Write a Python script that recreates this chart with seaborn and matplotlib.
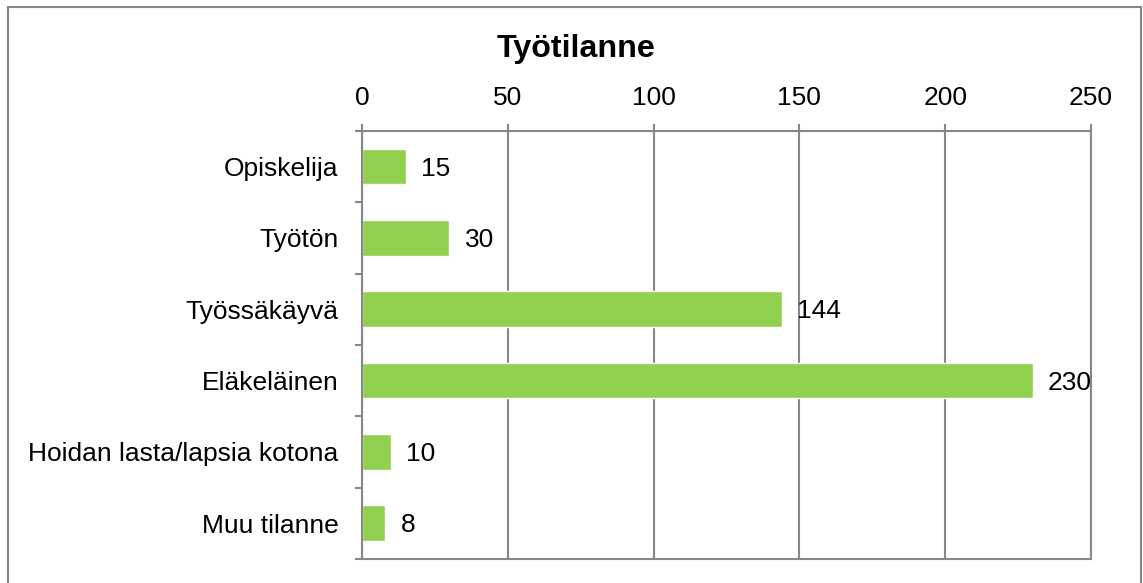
# Työtilanne - horizontal bar chart
import numpy as np
import pandas as pd
import matplotlib
matplotlib.use("Agg")
import matplotlib.pyplot as plt
from matplotlib.patches import Rectangle
import seaborn as sns

# ─── DATA ────────────────────────────────────────────────────────────────────
categories = ["Opiskelija", "Työtön", "Työssäkäyvä", "Eläkeläinen",
              "Hoidan lasta/lapsia kotona", "Muu tilanne"]
counts = [15, 30, 144, 230, 10, 8]
x_ticks = [0, 50, 100, 150, 200, 250]

df = pd.DataFrame({"Tilanne": categories, "Lukumäärä": counts})

# ─── STYLE ───────────────────────────────────────────────────────────────────
sns.set_style("white")
plt.rcParams["font.family"] = ["Liberation Sans", "DejaVu Sans"]
plt.rcParams["text.color"] = "black"
plt.rcParams["xtick.labelcolor"] = "black"
plt.rcParams["ytick.labelcolor"] = "black"

GRAY = "#878787"
GREEN = "#92D050"
FS = 19

fig = plt.figure(figsize=(11.43, 5.83), dpi=100)
ax = fig.add_axes([362 / 1143, 1 - 559 / 583, (1091 - 362) / 1143, (559 - 131) / 583])

sns.barplot(data=df, x="Lukumäärä", y="Tilanne", color=GREEN, saturation=1,
            width=0.5, orient="h", ax=ax)

ax.set_xlim(0, 250)
ax.set_ylim(5.5, -0.5)
ax.set_xticks(x_ticks)
ax.set_xlabel("")
ax.set_ylabel("")

# gridlines behind the bars
ax.set_axisbelow(True)
ax.grid(axis="x", color=GRAY, linewidth=1.5)
ax.grid(axis="y", visible=False)

# spines (right one stands in for the 250 gridline)
for side in ["left", "bottom", "top", "right"]:
    ax.spines[side].set_visible(True)
    ax.spines[side].set_color(GRAY)
    ax.spines[side].set_linewidth(1.5)

# x ticks on top
ax.xaxis.tick_top()
ax.tick_params(axis="x", top=True, bottom=False, length=5, width=1.5,
               color=GRAY, direction="out", pad=10, labelsize=FS)

# y ticks between categories
ax.set_yticks(np.arange(-0.5, 6, 1), minor=True)
ax.tick_params(axis="y", which="minor", left=True, right=False, length=5,
               width=1.5, color=GRAY, direction="out")
ax.tick_params(axis="y", which="major", left=False, right=False, length=0,
               pad=17, labelsize=FS)

# value labels, nudged slightly down to sit on the bar centre
for cont in ax.containers:
    for t in ax.bar_label(cont, padding=11, fontsize=FS, color="black"):
        t.xyann = (11, -1.5)

# title
fig.text(576 / 1143, 1 - 49 / 583, "Työtilanne", ha="center", va="center",
         fontsize=23.2, fontweight="bold")

# outer chart frame
fig.patches.append(Rectangle((8 / 1143, -0.05), (1141 - 8) / 1143, 1.05 - 7 / 583,
                             transform=fig.transFigure, fill=False,
                             edgecolor=GRAY, linewidth=1.5))

fig.savefig("out.png", dpi=100)
